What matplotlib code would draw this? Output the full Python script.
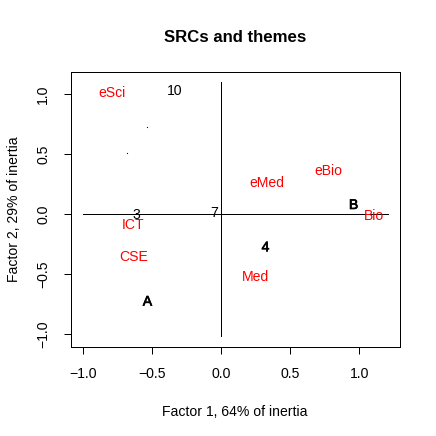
import matplotlib
matplotlib.use("Agg")
import matplotlib.pyplot as plt
import matplotlib.patheffects as pe

plt.rcParams['font.family'] = ['Liberation Sans', 'DejaVu Sans']

# Column (theme) labels, drawn in red
themes = ["eSci", "ICT", "CSE", "eMed", "eBio", "Bio", "Med"]
theme_x = [-0.79, -0.64, -0.635, 0.331, 0.778, 1.104, 0.249]
theme_y = [1.005, -0.09, -0.356, 0.26, 0.36, -0.014, -0.522]

# Row (SRC) labels, drawn in black
srcs = ["10", "3", "7", "B", "4", "A"]
src_x = [-0.34, -0.616, -0.05, 0.959, 0.321, -0.534]
src_y = [1.025, -0.01, 0.01, 0.075, -0.278, -0.73]
src_overprinted = [False, False, False, True, True, True]

# Tiny point labels
dot_x = [-0.536, -0.679]
dot_y = [0.728, 0.511]

# Reference axes lines
hline_x = [-1.0, 1.21]
hline_y = [0.0, 0.0]
vline_x = [0.0, 0.0]
vline_y = [-1.02, 1.10]

xticks = [-1.0, -0.5, 0.0, 0.5, 1.0]
yticks = [-1.0, -0.5, 0.0, 0.5, 1.0]
tick_labels = ["\u22121.0", "\u22120.5", "0.0", "0.5", "1.0"]

FS = 14
dpi = 72
fig = plt.figure(figsize=(436 / dpi, 436 / dpi), dpi=dpi)
ax = fig.add_axes([71 / 436, 1 - 347 / 436, (399.5 - 71) / 436, (347 - 72) / 436])

ax.set_xlim(-1.088, 1.292)
ax.set_ylim(-1.108, 1.183)

ax.plot(hline_x, hline_y, color="black", lw=1)
ax.plot(vline_x, vline_y, color="black", lw=1)

for lab, x, y in zip(themes, theme_x, theme_y):
    ax.text(x, y, lab, color="#FF0000", fontsize=FS, ha="center", va="center")

for lab, x, y, ov in zip(srcs, src_x, src_y, src_overprinted):
    kw = {}
    if ov:
        kw["path_effects"] = [pe.withStroke(linewidth=0.7, foreground="black")]
    ax.text(x, y, lab, color="black", fontsize=FS, ha="center", va="center", **kw)

ax.plot(dot_x, dot_y, linestyle="none", marker="o", markersize=1.2,
        color="black", markeredgewidth=0)

ax.set_xticks(xticks)
ax.set_yticks(yticks)
ax.set_xticklabels(tick_labels)
ax.set_yticklabels(tick_labels, rotation=90, va="center")
ax.tick_params(axis="x", direction="out", length=7, width=1, labelsize=FS, pad=13)
ax.tick_params(axis="y", direction="out", length=7, width=1, labelsize=FS, pad=14)
for s in ax.spines.values():
    s.set_linewidth(1)
    s.set_color("black")

ax.set_xlabel("Factor 1, 64% of inertia", fontsize=FS, labelpad=24)
ax.set_ylabel("Factor 2, 29% of inertia", fontsize=FS, labelpad=15)
ax.set_title("SRCs and themes", fontsize=16.8, fontweight="bold", pad=30)

fig.savefig("out.png", dpi=dpi)
